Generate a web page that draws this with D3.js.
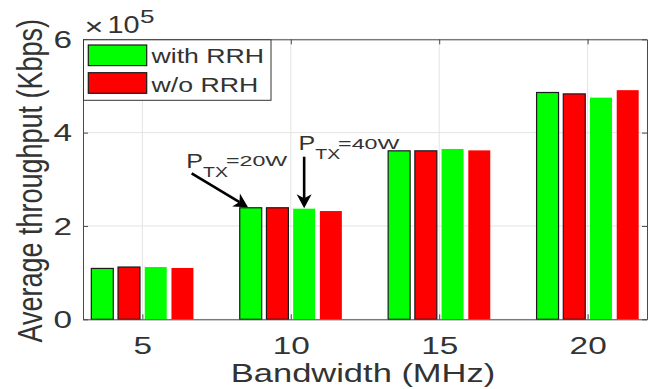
<!DOCTYPE html>
<html>
<head>
<meta charset="utf-8">
<script src="https://cdn.jsdelivr.net/npm/d3@7"></script>
<style>
  html, body { margin: 0; padding: 0; background: #fff; }
  svg { display: block; }
  text { font-family: "Liberation Sans", Arial, Helvetica, sans-serif; fill: #333; }
</style>
</head>
<body>
<svg id="chart" width="655" height="389"></svg>
<script>
// Bandwidth categories (MHz) and tick labels
const categories = [5, 10, 15, 20];
const tickLabelsX = ["5", "10", "15", "20"];
const tickValuesY = [0, 200000, 400000, 600000];
const tickLabelsY = ["0", "2", "4", "6"];

// Average throughput (Kbps) per bandwidth
const withRRH20W = [109000, 239000, 361000, 486000];
const woRRH20W   = [112000, 239000, 361000, 483000];
const withRRH40W = [112000, 237000, 365000, 475000];
const woRRH40W   = [110000, 232000, 362000, 491000];

const legendLabels = ["with RRH", "w/o RRH"];

// Bar layout inside each group (in MHz units) and styling
const barOffsets = [-1.35, -0.45, 0.45, 1.35];
const barWidth = 0.74;
const GREEN = "#00ff00", RED = "#ff0000";
const seriesList = [
  { values: withRRH20W, color: GREEN, edged: true },
  { values: woRRH20W,   color: RED,   edged: true },
  { values: withRRH40W, color: GREEN, edged: false },
  { values: woRRH40W,   color: RED,   edged: false }
];

const svg = d3.select("#chart");
const plot = { left: 83, top: 39.3, right: 647, bottom: 319.3 };

const x = d3.scaleLinear().domain([3, 22]).range([plot.left, plot.right]);
const y = d3.scaleLinear().domain([0, 600000]).range([plot.bottom, plot.top]);

// Text with a horizontal stretch factor
function stext(sel, px, py, str, size, sx, anchor, rot) {
  return sel.append("text")
    .attr("transform", `translate(${px},${py}) scale(${sx},1)` + (rot ? ` rotate(${rot})` : ""))
    .attr("font-size", size)
    .attr("text-anchor", anchor || "start")
    .text(str);
}

// Grid
const grid = svg.append("g");
grid.selectAll("line.gx").data(categories).join("line")
  .attr("x1", d => x(d)).attr("x2", d => x(d))
  .attr("y1", plot.top).attr("y2", plot.bottom)
  .attr("stroke", "#e3e3e3").attr("stroke-width", 1);
grid.selectAll("line.gy").data(tickValuesY).join("line")
  .attr("x1", plot.left).attr("x2", plot.right)
  .attr("y1", d => y(d)).attr("y2", d => y(d))
  .attr("stroke", "#e3e3e3").attr("stroke-width", 1);

// Bars
seriesList.forEach((s, i) => {
  svg.append("g").selectAll("rect").data(categories).join("rect")
    .attr("x", (c) => x(c + barOffsets[i] - barWidth / 2))
    .attr("width", x(barWidth) - x(0))
    .attr("y", (c, j) => y(s.values[j]))
    .attr("height", (c, j) => y(0) - y(s.values[j]))
    .attr("fill", s.color)
    .attr("stroke", s.edged ? "#1a1a1a" : "none")
    .attr("stroke-width", s.edged ? 1.2 : 0);
});

// Axes (ticks point inward, box on all four sides)
const axisColor = "#4a4a4a";
const gx = svg.append("g").attr("transform", `translate(0,${plot.bottom})`)
  .call(d3.axisBottom(x).tickValues(categories).tickSize(-5).tickSizeOuter(0)
    .tickFormat((d, i) => tickLabelsX[i]));
const gy = svg.append("g").attr("transform", `translate(${plot.left},0)`)
  .call(d3.axisLeft(y).tickValues(tickValuesY).tickSize(-5).tickSizeOuter(0)
    .tickFormat((d, i) => tickLabelsY[i]));
svg.append("g").attr("transform", `translate(0,${plot.top})`)
  .call(d3.axisTop(x).tickValues(categories).tickSize(-5).tickSizeOuter(0).tickFormat(""));
svg.append("g").attr("transform", `translate(${plot.right},0)`)
  .call(d3.axisRight(y).tickValues(tickValuesY).tickSize(-5).tickSizeOuter(0).tickFormat(""));
svg.selectAll(".domain").attr("stroke", axisColor);
svg.selectAll(".tick line").attr("stroke", axisColor);

gx.selectAll(".tick text")
  .attr("y", 0).attr("dy", 0)
  .attr("transform", "translate(0,34.7) scale(1.45,1)")
  .attr("font-size", 23).attr("font-family", null).attr("fill", "#333");
gy.selectAll(".tick text")
  .attr("x", 0).attr("dy", "0.36em")
  .attr("transform", "translate(-11,0) scale(1.45,1)")
  .attr("font-size", 23).attr("font-family", null).attr("fill", "#333");
gx.attr("font-family", null); gy.attr("font-family", null);

// Exponent label
stext(svg, 84.5, 35, "\u00d7", 24, 1.35);
stext(svg, 107.5, 33.3, "10", 24, 1.2);
stext(svg, 140, 23.3, "5", 18, 1.45);

// Axis titles
stext(svg, 363, 381.7, "Bandwidth (MHz)", 25, 1.38, "middle");
stext(svg, 42, 180.7, "Average throughput (Kbps)", 27, 1.3, "middle", -90);

// Legend
const lg = svg.append("g");
lg.append("rect").attr("x", plot.left + 0.5).attr("y", plot.top + 0.5)
  .attr("width", 187.5).attr("height", 60.5)
  .attr("fill", "#fff").attr("stroke", "#333").attr("stroke-width", 1);
[GREEN, RED].forEach((col, i) => {
  const top = [45, 72.7][i];
  lg.append("rect").attr("x", 88.3).attr("y", top).attr("width", 58.4).attr("height", 20.6)
    .attr("fill", col).attr("stroke", "#1a1a1a").attr("stroke-width", 1.2);
  stext(lg, 151.5, [63.3, 91.8][i], legendLabels[i], 21, 1.27);
});

// Transmit-power annotations with arrows to the group-10 bars
function arrow(x0, y0, x1, y1) {
  const dx = x1 - x0, dy = y1 - y0, len = Math.hypot(dx, dy);
  const ux = dx / len, uy = dy / len, nx = -uy, ny = ux;
  const L = 14, W = 7.5, notch = 4;
  svg.append("line")
    .attr("x1", x0).attr("y1", y0)
    .attr("x2", x1 - ux * (L - notch)).attr("y2", y1 - uy * (L - notch))
    .attr("stroke", "#000").attr("stroke-width", 2.6);
  const pts = [
    [x1, y1],
    [x1 - ux * L + nx * W, y1 - uy * L + ny * W],
    [x1 - ux * (L - notch), y1 - uy * (L - notch)],
    [x1 - ux * L - nx * W, y1 - uy * L - ny * W]
  ];
  svg.append("polygon").attr("points", pts.map(p => p.join(",")).join(" ")).attr("fill", "#000");
}
function ptxLabel(px, py, power) {
  stext(svg, px, py, "P", 20, 1.25);
  stext(svg, px + 16.8, py + 9, "TX", 14, 1.39);
  stext(svg, px + 39.6, py - 1.3, "=" + power, 15, 1.55);
}

const g10 = categories.indexOf(10);
// 20 W arrow: points at the left part of the first bar
arrow(x(6.66), y(312800), x(10 + barOffsets[0] - 0.09), y(withRRH20W[g10]) - 0.5);
ptxLabel(x(6.48), y(324800), "20W");
// 40 W arrow: vertical onto the third bar
arrow(x(10 + barOffsets[2]), y(348400), x(10 + barOffsets[2]), y(withRRH40W[g10]) - 0.5);
ptxLabel(x(10.26), y(362800), "40W");
</script>
</body>
</html>
